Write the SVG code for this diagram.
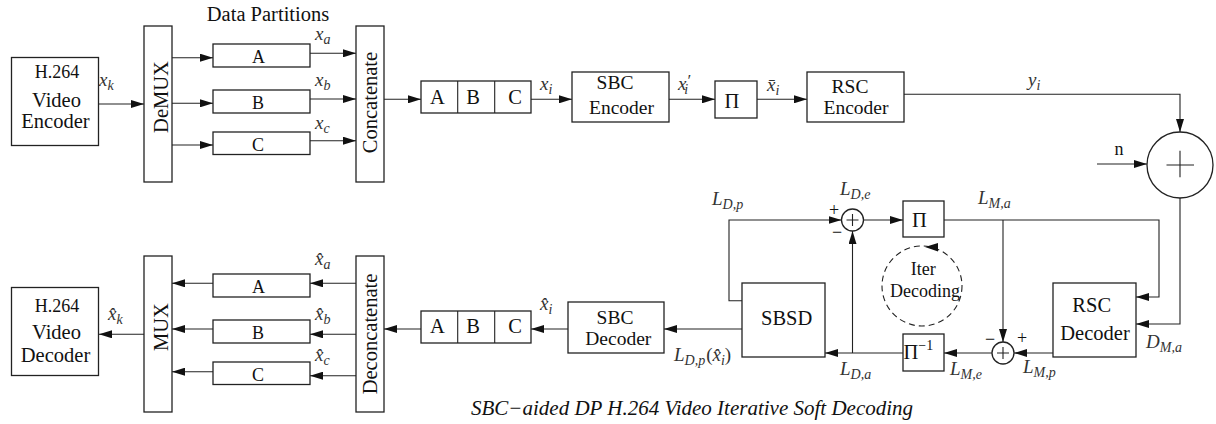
<svg xmlns="http://www.w3.org/2000/svg" width="1216" height="424" viewBox="0 0 1216 424">
<style>
.b{fill:#fff;stroke:#222;stroke-width:1.3}
.l{fill:none;stroke:#222;stroke-width:1.1}
.t{font-family:"Liberation Serif","Times New Roman",serif;font-size:20.5px;fill:#111;text-anchor:middle}
.t2{font-family:"Liberation Serif","Times New Roman",serif;font-size:19.5px;fill:#111;text-anchor:middle}
.ts{font-family:"Liberation Serif","Times New Roman",serif;font-size:20.5px;fill:#111}
.s{font-family:"Liberation Serif","Times New Roman",serif;font-size:18px;fill:#111;text-anchor:middle}
.m{font-family:"Liberation Serif","Times New Roman",serif;font-style:italic;font-size:19px;fill:#333}
.u{font-style:normal}
.sb{font-size:14px}
.cap{font-family:"Liberation Serif","Times New Roman",serif;font-style:italic;font-size:21px;fill:#111}
</style>
<defs>
<marker id="ah" viewBox="0 0 13 8" refX="13" refY="4" markerWidth="13" markerHeight="8" markerUnits="userSpaceOnUse" orient="auto">
<path d="M0,0 L13,4 L0,8 z" fill="#111"/>
</marker>
</defs>

<g id="connectors" class="l" marker-end="url(#ah)">
<path d="M99,104 H144"/>
<path d="M172,57.7 H213"/>
<path d="M172,103.3 H213"/>
<path d="M172,145 H213"/>
<path d="M310,53.3 H356"/>
<path d="M310,99 H356"/>
<path d="M310,140.7 H356"/>
<path d="M384,99.3 H421"/>
<path d="M531,99.3 H572"/>
<path d="M669,99.3 H715"/>
<path d="M757,99.3 H807"/>
<path d="M904,94.3 H1180 V132"/>
<path d="M1097,164 H1147"/>
<path d="M1180,198 V324 H1136"/>
<path d="M944,220 H1159 V297 H1136"/>
<path d="M1003,220 V342"/>
<path d="M1053,353 H1014"/>
<path d="M992,353 H944"/>
<path d="M903,353 H825"/>
<path d="M852.5,353 V231"/>
<path d="M742,300.7 H729 V220 H841.5"/>
<path d="M863.5,220 H903"/>
<path d="M742,329 H664"/>
<path d="M568,329 H531"/>
<path d="M421,329 H384"/>
<path d="M356,283.3 H310"/>
<path d="M356,334.3 H310"/>
<path d="M356,375.7 H310"/>
<path d="M213,283.3 H172"/>
<path d="M213,329 H172"/>
<path d="M213,371.7 H172"/>
<path d="M144,334.3 H99"/>
</g>

<g id="enc">
<rect class="b" x="11.5" y="57.5" width="87" height="88"/>
<text class="s" x="57" y="78">H.264</text>
<text class="t" x="56.5" y="107">Video</text>
<text class="t" x="55.5" y="128">Encoder</text>
</g>
<g id="demux">
<rect class="b" x="144" y="26" width="28" height="156"/>
<text class="t" transform="translate(168.3,97) rotate(-90)" font-size="21.5">DeMUX</text>
</g>
<g id="partA"><rect class="b" x="213" y="44" width="97" height="23"/><text class="s" x="258.5" y="63.3">A</text></g>
<g id="partB"><rect class="b" x="213" y="90" width="97" height="23"/><text class="s" x="258" y="109.3">B</text></g>
<g id="partC"><rect class="b" x="213" y="132" width="97" height="22.5"/><text class="s" x="258" y="150.7">C</text></g>
<g id="concat">
<rect class="b" x="356" y="26" width="28" height="156"/>
<text class="t" transform="translate(376.7,102.5) rotate(-90)">Concatenate</text>
</g>
<g id="abc">
<rect class="b" x="421" y="81" width="110" height="32"/>
<path class="l" d="M457.7,81 V113 M494.7,81 V113"/>
<text class="t" x="437.5" y="104.3" font-size="19.5">A</text>
<text class="t" x="473" y="104.3" font-size="19.5">B</text>
<text class="t" x="515" y="104.3" font-size="19.5">C</text>
</g>
<g id="sbcenc">
<rect class="b" x="572" y="72" width="97" height="50"/>
<text class="t2" x="615" y="89">SBC</text>
<text class="t2" x="621.5" y="113.5">Encoder</text>
</g>
<g id="pi1">
<rect class="b" x="715" y="81" width="42" height="37"/>
<text class="t" x="732" y="108">Π</text>
</g>
<g id="rscenc">
<rect class="b" x="807" y="72" width="97" height="50"/>
<text class="t2" x="850" y="92.5">RSC</text>
<text class="t2" x="856" y="113.5">Encoder</text>
</g>
<g id="adder">
<circle class="b" cx="1180" cy="165" r="33"/>
<path class="l" d="M1166.5,165 H1194 M1180,150.7 V177.3"/>
</g>

<g id="dec">
<rect class="b" x="11.5" y="287.5" width="87" height="88"/>
<text class="s" x="57" y="311.7">H.264</text>
<text class="t" x="56.5" y="339.3">Video</text>
<text class="t" x="55.5" y="362">Decoder</text>
</g>
<g id="mux">
<rect class="b" x="144" y="256" width="28" height="156"/>
<text class="t" transform="translate(168.3,327) rotate(-90)" font-size="21.5">MUX</text>
</g>
<g id="partA2"><rect class="b" x="213" y="274" width="97" height="23"/><text class="s" x="258.5" y="293.3">A</text></g>
<g id="partB2"><rect class="b" x="213" y="320" width="97" height="23"/><text class="s" x="258" y="339.3">B</text></g>
<g id="partC2"><rect class="b" x="213" y="362" width="97" height="22.5"/><text class="s" x="258" y="380.7">C</text></g>
<g id="deconcat">
<rect class="b" x="356" y="256" width="28" height="156"/>
<text class="t" transform="translate(376.7,334) rotate(-90)">Deconcatenate</text>
</g>
<g id="abc2">
<rect class="b" x="421" y="311" width="110" height="32"/>
<path class="l" d="M457.7,311 V343 M494.7,311 V343"/>
<text class="t" x="437.5" y="333.3" font-size="19.5">A</text>
<text class="t" x="473" y="333.3" font-size="19.5">B</text>
<text class="t" x="515" y="333.3" font-size="19.5">C</text>
</g>
<g id="sbcdec">
<rect class="b" x="568" y="302" width="96" height="51"/>
<text class="t2" x="615" y="323.5">SBC</text>
<text class="t2" x="618.3" y="344.5">Decoder</text>
</g>
<g id="sbsd">
<rect class="b" x="742" y="283" width="83" height="74"/>
<text class="t" x="786.7" y="325">SBSD</text>
</g>
<g id="sum1">
<circle class="b" cx="852.5" cy="220" r="11"/>
<path class="l" d="M846.5,220 H858.5 M852.5,214 V226"/>
</g>
<g id="pi2">
<rect class="b" x="903" y="201" width="41" height="36"/>
<text class="t" x="919.5" y="226.7">Π</text>
</g>
<g id="iter">
<circle cx="922" cy="286" r="40" fill="none" stroke="#222" stroke-width="1.1" stroke-dasharray="6 4"/>
<polygon points="925,247 938,243 938,251.5" fill="#111"/>
<text class="s" x="923.3" y="275">Iter</text>
<text class="s" x="925" y="297.3">Decoding</text>
</g>
<g id="rscdec">
<rect class="b" x="1053" y="283" width="83" height="74"/>
<text class="t" x="1091.7" y="311.7">RSC</text>
<text class="t" x="1095" y="340">Decoder</text>
</g>
<g id="sum2">
<circle class="b" cx="1003" cy="353" r="11"/>
<path class="l" d="M997,353 H1009 M1003,347 V359"/>
</g>
<g id="piinv">
<rect class="b" x="903" y="334" width="41" height="37"/>
<text class="ts" x="903.5" y="359">Π<tspan font-size="14" dy="-9">−1</tspan></text>
</g>

<g id="labels">
<text class="t" x="268" y="20.5" font-size="20">Data Partitions</text>
<text class="m" x="99" y="86">x<tspan class="sb" dy="4">k</tspan></text>
<text class="m" x="315" y="40">x<tspan class="sb" dy="4">a</tspan></text>
<text class="m" x="315" y="86">x<tspan class="sb" dy="4">b</tspan></text>
<text class="m" x="315" y="129">x<tspan class="sb" dy="4">c</tspan></text>
<text class="m" x="540" y="90">x<tspan class="sb" dy="4">i</tspan></text>
<text class="m" x="678" y="90">x<tspan dy="-4" font-size="17">′</tspan><tspan class="sb" dx="-6" dy="8">i</tspan></text>
<text class="m" x="767" y="91">x̄<tspan class="sb" dy="4">i</tspan></text>
<text class="m" x="1028" y="86">y<tspan class="sb" dy="4">i</tspan></text>
<text class="s" x="1119" y="155">n</text>
<text class="m" x="840" y="195" font-size="20">L<tspan class="sb" dy="4">D,e</tspan></text>
<text class="m" x="978" y="204" font-size="20">L<tspan class="sb" dy="4">M,a</tspan></text>
<text class="m" x="712" y="205" font-size="20">L<tspan class="sb" dy="4">D,p</tspan></text>
<text class="s" x="834" y="216" font-size="16">+</text>
<text class="s" x="837" y="238" font-size="16">−</text>
<text class="s" x="990" y="345" font-size="16">−</text>
<text class="s" x="1022" y="344" font-size="16">+</text>
<text class="m" x="1146" y="348" font-size="20">D<tspan class="sb" dy="4">M,a</tspan></text>
<text class="m" x="1023" y="373" font-size="20">L<tspan class="sb" dy="4">M,p</tspan></text>
<text class="m" x="950" y="375" font-size="20">L<tspan class="sb" dy="4">M,e</tspan></text>
<text class="m" x="840" y="375" font-size="20">L<tspan class="sb" dy="4">D,a</tspan></text>
<text class="m" x="674" y="361" font-size="21">L<tspan class="sb" dy="4">D,p</tspan><tspan class="u" dy="-4" dx="1">(</tspan>x̂<tspan class="sb" dy="4">i</tspan><tspan class="u" dy="-4">)</tspan></text>
<text class="m" x="540" y="310">x̂<tspan class="sb" dy="4">i</tspan></text>
<text class="m" x="315" y="265">x̂<tspan class="sb" dy="4">a</tspan></text>
<text class="m" x="315" y="320">x̂<tspan class="sb" dy="4">b</tspan></text>
<text class="m" x="315" y="361">x̂<tspan class="sb" dy="4">c</tspan></text>
<text class="m" x="108" y="320">x̂<tspan class="sb" dy="4">k</tspan></text>
<text class="cap" x="471" y="415">SBC−aided DP H.264 Video Iterative Soft Decoding</text>
</g>
</svg>
